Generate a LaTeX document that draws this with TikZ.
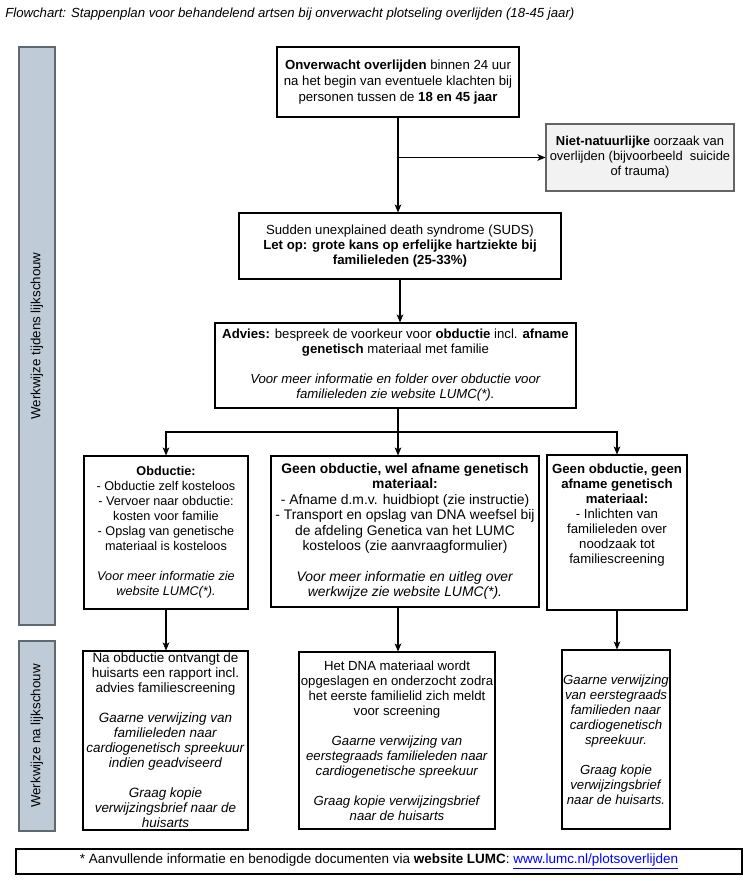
\documentclass[tikz,border=0pt]{standalone}
\usepackage{fontspec}
\setmainfont{Liberation Sans}
\usetikzlibrary{arrows.meta}

\definecolor{balk}{RGB}{191,204,216}
\definecolor{balkrand}{RGB}{96,104,112}
\definecolor{grijsvak}{RGB}{242,242,242}
\definecolor{grijsrand}{RGB}{100,100,100}

\tikzset{
  vak/.style={draw, line width=0.8pt, align=center, inner sep=0pt,
    font=\fontsize{9.9}{11.25}\selectfont},
  groot/.style={font=\fontsize{10.4}{11.6}\selectfont},
  klein/.style={font=\fontsize{9.5}{11.25}\selectfont},
  maat/.style 2 args={minimum width=0.75*#1pt, minimum height=0.75*#2pt},
  pijl/.style={-{Stealth[length=6pt, width=5pt, inset=1.5pt]}, line width=0.8pt},
  lijn/.style={line width=0.8pt},
  zijbalk/.style={draw=balkrand, fill=balk, line width=0.8pt, inner sep=0pt,
    rotate=90, font=\fontsize{10}{11.25}\selectfont}
}

\begin{document}
\begin{tikzpicture}[x=0.75pt,y=-0.75pt]
  \useasboundingbox (0,0) rectangle (752,881);

  % titel
  \node[anchor=west, inner sep=0pt, font=\fontsize{9.9}{11}\selectfont\itshape] (titel) at (5,14)
    {Flowchart: Stappenplan voor behandelend artsen bij onverwacht plotseling overlijden (18-45 jaar)};

  % zijbalken
  \node[zijbalk, maat={578}{36}] (tijdens) at (37,336) {Werkwijze tijdens lijkschouw};
  \node[zijbalk, maat={190}{36}] (na) at (37,736) {Werkwijze na lijkschouw};

  % bovenste deel
  \node[vak, font=\fontsize{9.9}{12.2}\selectfont, maat={242}{70}] (start) at (398,82)
    {\textbf{Onverwacht overlijden} binnen 24 uur\\
     na het begin van eventuele klachten bij\\
     personen tussen de \textbf{18 en 45 jaar}};
  \node[vak, font=\fontsize{9.7}{11.25}\selectfont, maat={188}{67}, fill=grijsvak, draw=grijsrand] (niet) at (640,157.5)
    {\textbf{Niet-natuurlijke} oorzaak van\\
     overlijden (bijvoorbeeld\ \ suicide\\
     of trauma)};
  \node[vak, maat={322}{66}] (suds) at (400,246)
    {Sudden unexplained death syndrome (SUDS)\\
     \textbf{Let op: grote kans op erfelijke hartziekte bij}\\
     \textbf{familieleden (25-33\%)}};
  \node[vak, maat={361}{85}] (advies) at (395.5,365.5)
    {\textbf{Advies:} bespreek de voorkeur voor \textbf{obductie} incl. \textbf{afname}\\
     \textbf{genetisch} materiaal met familie\\[11.25pt]
     \textit{Voor meer informatie en folder over obductie voor}\\
     \textit{familieleden zie website LUMC(*).}};

  % drie keuzes
  \node[vak, klein, maat={164}{153}] (obd) at (166,532.5)
    {\textbf{Obductie:}\\
     - Obductie zelf kosteloos\\
     - Vervoer naar obductie:\\
     kosten voor familie\\
     - Opslag van genetische\\
     materiaal is kosteloos\\[11.25pt]
     \textit{Voor meer informatie zie}\\
     \textit{website LUMC(*).}};
  \node[vak, groot, maat={268}{151}] (dna) at (405,531.5)
    {\textbf{Geen obductie, wel afname genetisch}\\
     \textbf{materiaal:}\\
     - Afname d.m.v. huidbiopt (zie instructie)\\
     - Transport en opslag van DNA weefsel bij\\
     de afdeling Genetica van het LUMC\\
     kosteloos (zie aanvraagformulier)\\[11.25pt]
     \textit{Voor meer informatie en uitleg over}\\
     \textit{werkwijze zie website LUMC(*).}};
  \node[vak, maat={140}{155}] (geen) at (617,532.5) {};
  \node[vak, draw=none, anchor=north] (geentekst) at ([yshift=-7pt]geen.north)
    {\textbf{Geen obductie, geen}\\
     \textbf{afname genetisch}\\
     \textbf{materiaal:}\\
     - Inlichten van\\
     familieleden over\\
     noodzaak tot\\
     familiescreening};

  % na lijkschouw
  \node[vak, font=\fontsize{10.1}{11.25}\selectfont, maat={165}{179}] (rapport) at (165.5,740.5)
    {Na obductie ontvangt de\\
     huisarts een rapport incl.\\
     advies familiescreening\\[11.25pt]
     \textit{Gaarne verwijzing van}\\
     \textit{familieleden naar}\\
     \textit{cardiogenetisch spreekuur}\\
     \textit{indien geadviseerd}\\[11.25pt]
     \textit{Graag kopie}\\
     \textit{verwijzingsbrief naar de}\\
     \textit{huisarts}};
  \node[vak, maat={196}{177}] (opslag) at (397,740.5)
    {Het DNA materiaal wordt\\
     opgeslagen en onderzocht zodra\\
     het eerste familielid zich meldt\\
     voor screening\\[11.25pt]
     \textit{Gaarne verwijzing van}\\
     \textit{eerstegraads familieleden naar}\\
     \textit{cardiogenetische spreekuur}\\[11.25pt]
     \textit{Graag kopie verwijzingsbrief}\\
     \textit{naar de huisarts}};
  \node[vak, maat={108}{179}] (verwijs) at (616,739.5)
    {\textit{Gaarne verwijzing}\\
     \textit{van eerstegraads}\\
     \textit{familieden naar}\\
     \textit{cardiogenetisch}\\
     \textit{spreekuur.}\\[11.25pt]
     \textit{Graag kopie}\\
     \textit{verwijzingsbrief}\\
     \textit{naar de huisarts.}};

  % voetnoot
  \node[vak, font=\fontsize{10.1}{11.25}\selectfont, maat={726}{25}] (voet) at (379,861.5)
    {* Aanvullende informatie en benodigde documenten via \textbf{website LUMC}:
     {\color{blue}\underline{www.lumc.nl/plotsoverlijden}}};

  % verbindingen
  \coordinate (tak) at (start.south |- niet.west);
  \coordinate (splits) at (398,432);
  \draw[pijl] (start.south) -- (start.south |- suds.north);
  \draw[pijl] (tak) -- (niet.west);
  \draw[pijl] (suds.south) -- (suds.south |- advies.north);
  \draw[lijn] (advies.south -| splits) -- (splits);
  \draw[pijl] (splits) -| (obd.north);
  \draw[pijl] (splits) -- (splits |- dna.north);
  \draw[pijl] (splits) -| (geen.north);
  \draw[pijl] (obd.south) -- (obd.south |- rapport.north);
  \draw[pijl] (dna.south -| splits) -- (splits |- opslag.north);
  \draw[pijl] (geen.south) -- (geen.south |- verwijs.north);
\end{tikzpicture}
\end{document}
